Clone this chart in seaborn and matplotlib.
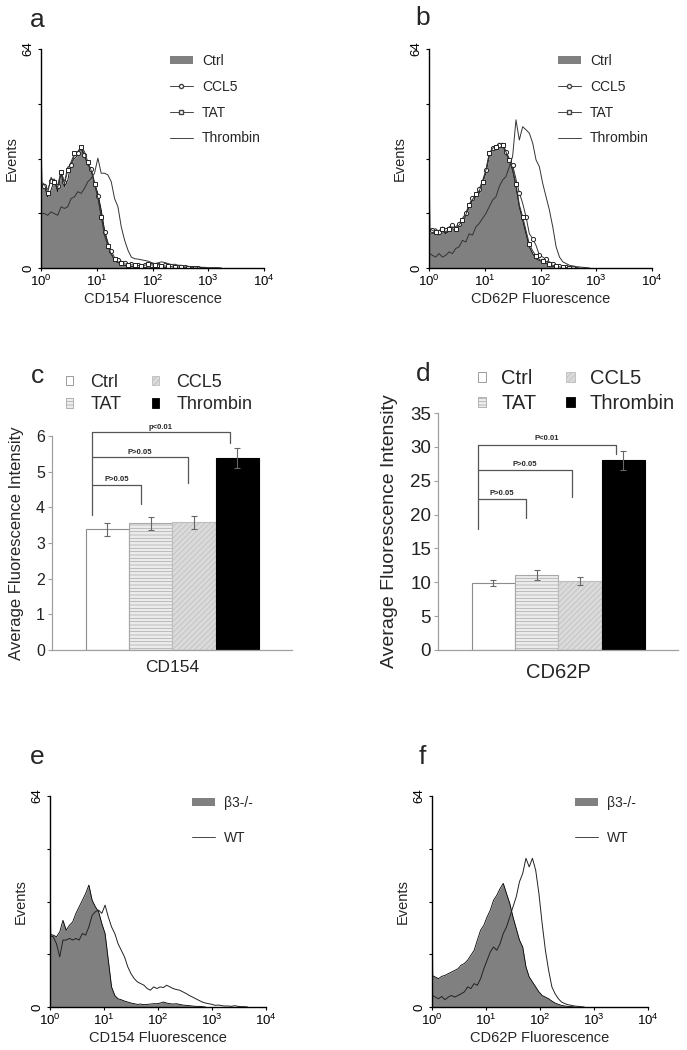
import matplotlib
matplotlib.use("Agg")
import matplotlib.pyplot as plt
import seaborn as sns
from matplotlib.patches import Patch
from matplotlib.lines import Line2D
from matplotlib.ticker import NullLocator

sns.set_style("ticks")
plt.rcParams["font.family"] = ["Liberation Sans", "DejaVu Sans"]
plt.rcParams["mathtext.fontset"] = "custom"
plt.rcParams["mathtext.rm"] = "Liberation Sans"
plt.rcParams["mathtext.it"] = "Liberation Sans:italic"
plt.rcParams["hatch.linewidth"] = 0.5

# flow cytometry channels (fluorescence, log scale)
fl_channels = [1.0, 1.03, 1.148, 1.318, 1.514, 1.738, 1.995, 2.291, 2.630, 3.020,
               3.467, 3.981, 4.571, 5.248, 6.026, 6.918, 7.943, 9.120, 10.47, 12.02,
               13.80, 15.85, 18.20, 20.89, 23.99, 27.54, 31.62, 36.31, 41.69, 47.86,
               54.95, 63.10, 72.44, 83.18, 95.50, 109.6, 125.9, 144.5, 166.0, 190.5,
               218.8, 251.2, 288.4, 331.1, 380.2, 436.5, 501.2, 575.4, 660.7, 758.6,
               871.0, 1000, 1148, 1318, 1514, 1738, 1995, 2291, 2630, 3020,
               3467, 3981, 4571, 5248, 6026, 6918, 7943, 9120, 10000]

# panel a - CD154
a_ctrl = [50, 24, 24.2, 20.8, 22.8, 25.7, 22.3, 27.7, 23.8, 25.7, 30.6, 32, 33, 35, 32.5,
          30.6, 28.6, 24.7, 21.8, 16.9, 11, 7.1, 4.2, 2.2, 1.6, 1.3, 1.1, 0.9, 0.8, 0.8,
          0.7, 0.6, 0.7, 0.9, 0.8, 0.6, 0.9, 1.0, 0.7, 0.6, 0.5, 0.4, 0.4, 0.3, 0.3, 0.2,
          0.2, 0.2, 0.1, 0.1, 0]
a_ccl5 = [46, 24.5, 24, 23, 25.5, 26, 24, 28.5, 25, 29.5, 30, 33, 33.5, 35.5, 33, 30, 29,
          25, 21, 15.5, 10.5, 7.5, 5, 3, 2.2, 2.0, 1.6, 1.3, 1.1, 0.8, 0.9, 1.0, 0.8, 1.0,
          0.9, 1.2, 1.0, 0.8, 0.9, 0.6, 0.5, 0.4, 0.3, 0.3, 0.2, 0.2, 0.1, 0.1, 0]
a_tat = [47, 25, 24.5, 22, 26.5, 25, 23.5, 28, 24.5, 28.5, 31, 33.5, 34, 35.5, 34, 31,
         28.5, 24.5, 20.5, 15, 9.5, 6.5, 4, 2.5, 1.8, 1.5, 1.2, 1.0, 0.9, 1.0, 0.7, 0.6,
         0.8, 1.1, 0.9, 0.8, 1.0, 0.7, 0.6, 0.5, 0.4, 0.3, 0.3, 0.2, 0.2, 0.1, 0.1, 0]
a_thr = [16, 16, 15.9, 15.4, 16.4, 15.9, 15.4, 17.9, 17.4, 17.9, 20.3, 20.8, 22.3, 21.8,
         23.3, 25.2, 26.2, 27.7, 32.1, 27.7, 27.7, 27.2, 25.2, 20.3, 17.9, 12, 8.1, 5.2,
         3.2, 2.7, 2.6, 2.4, 2.2, 2.0, 1.6, 1.3, 1.5, 1.8, 1.6, 1.3, 1.0, 1.1, 0.8, 0.8,
         0.6, 0.5, 0.4, 0.3, 0.3, 0.2, 0.2, 0.1, 0.1, 0.1, 0.1, 0]

# panel b - CD62P
b_ctrl = [48, 10, 10, 10.5, 9.6, 11, 10, 11, 11.5, 11, 12, 13.5, 15, 17.9, 19.8, 20.8,
          21.8, 24.7, 27.7, 32.6, 34.5, 35, 35.5, 36, 33.5, 31.6, 28.6, 23.8, 17.9, 14,
          10, 6.2, 4.2, 2.7, 2.2, 1.8, 1.3, 1.0, 0.7, 0.5, 0.4, 0.3, 0.2, 0.1, 0.1, 0.1, 0]
b_ccl5 = [47, 11, 11, 11.5, 10.5, 12, 11, 12, 12.5, 12, 13, 14.5, 16, 18.5, 20.5, 21.5,
          23, 25.5, 28.5, 33, 35, 35.5, 36, 36.5, 34, 32, 30, 26, 22, 18.9, 15, 10, 8.6,
          6.6, 3.7, 3.2, 2.5, 1.8, 1.2, 0.8, 0.5, 0.3, 0.2, 0.1, 0.1, 0]
b_tat = [47, 11.5, 11, 10.5, 11, 11.5, 10.5, 11.5, 12, 11.5, 12.5, 14, 15.5, 18.5, 20,
         21.5, 22.5, 25, 28.5, 33.5, 35, 35.5, 36.5, 36, 34, 31.5, 29, 24.5, 18.5, 15,
         11, 7, 5, 3.5, 2.5, 2.0, 1.5, 1.1, 0.8, 0.5, 0.3, 0.2, 0.1, 0]
b_thr = [4.2, 4.2, 3.7, 3.2, 4.2, 3.2, 3.7, 4.7, 4.2, 5.7, 6.2, 8.1, 7.6, 10, 9.6, 12,
         13, 14.5, 15.9, 17.9, 19.8, 20.8, 23.8, 25.7, 26.7, 29.6, 32.6, 43.3, 37.4,
         41.3, 40.4, 39.4, 36.5, 31.6, 29.6, 24.7, 20.8, 16.9, 12, 6.2, 3.2, 1.8, 1.3,
         0.8, 0.6, 0.4, 0.3, 0.2, 0.1, 0]

# panel e - CD154, beta3 knockout vs WT
e_ko = [48, 22, 21.8, 21.3, 22.8, 26.3, 23.3, 24.8, 25.8, 28.4, 30.4, 32.4, 34.4, 37,
        32.4, 30.4, 28.9, 25.3, 22.3, 14.2, 6.1, 3.5, 2.5, 2.2, 1.8, 1.5, 1.2, 1.0, 0.8,
        0.9, 0.7, 0.8, 0.9, 1.0, 1.0, 1.2, 1.5, 1.2, 1.0, 0.9, 1.0, 0.8, 0.6, 0.5, 0.4,
        0.3, 0.2, 0.2, 0.1, 0]
e_wt = [22, 21.5, 21.3, 19.2, 15.2, 20.3, 20.3, 20.8, 20.3, 20.8, 20.3, 22.3, 21.8, 24.3,
        27.8, 28.9, 29.4, 28.4, 30.9, 27.3, 24.3, 22.3, 19.2, 17.2, 15.2, 12.2, 10.1, 8.6,
        7.6, 7.1, 6.6, 5.6, 5.1, 6.1, 5.6, 6.1, 5.9, 6.6, 6.1, 5.6, 5.3, 5.1, 4.6, 4.1,
        3.5, 3.0, 2.5, 2.0, 1.5, 1.2, 1.0, 0.8, 0.5, 0.6, 0.4, 0.3, 0.3, 0.2, 0.4, 0.2,
        0.1, 0.1, 0]

# panel f - CD62P, beta3 knockout vs WT
f_ko = [48, 9.5, 9.1, 8.6, 9.3, 9.6, 10.1, 10.6, 11.1, 11.6, 12.7, 13.2, 14.2, 15.7, 17.2,
        20.3, 23.3, 24.8, 27.3, 29.4, 32.4, 33.9, 35.9, 37.5, 34.4, 31.4, 27.3, 23.8,
        20.3, 18.2, 12.2, 9.1, 7.6, 6.1, 4.6, 3.5, 3.0, 2.5, 1.8, 1.2, 0.8, 0.5, 0.3,
        0.2, 0.1, 0]
f_wt = [3.5, 3.5, 3.0, 2.5, 3.2, 2.2, 3.0, 3.5, 3.0, 3.5, 4.0, 4.6, 6.1, 5.6, 7.1, 6.6,
        8.6, 11.6, 14.2, 16.7, 18.2, 17.2, 19.2, 22.3, 24.3, 27.3, 30.4, 33.4, 38.0, 40.5,
        45.1, 42.5, 45.1, 41.5, 34.4, 25.3, 17.2, 11.1, 6.1, 4.0, 2.5, 1.5, 1.0, 0.7,
        0.5, 0.3, 0.2, 0.1, 0]

# panels c, d - mean fluorescence intensity
bar_groups = ["Ctrl", "TAT", "CCL5", "Thrombin"]
cd154_mean = [3.38, 3.55, 3.58, 5.37]
cd154_sem = [0.18, 0.18, 0.18, 0.28]
cd62p_mean = [9.9, 11.1, 10.2, 28.0]
cd62p_sem = [0.5, 0.7, 0.6, 1.45]

W, H = 687, 1050
fig = plt.figure(figsize=(W / 100, H / 100), dpi=100)


def px_axes(x0, y0, x1, y1):
    return fig.add_axes([x0 / W, 1 - y1 / H, (x1 - x0) / W, (y1 - y0) / H])


def flow_panel(ax, filled, lines, xlabel):
    ax.fill_between(fl_channels[:len(filled)], filled, color="#808080", lw=0)
    sns.lineplot(x=fl_channels[:len(filled)], y=filled, color="black", lw=0.6, ax=ax)
    for vals, style in lines:
        sns.lineplot(x=fl_channels[:len(vals)], y=vals, ax=ax, **style)
    ax.set_xscale("log")
    ax.set_xlim(1, 10000)
    ax.set_ylim(0, 64)
    ax.set_xticks([1, 10, 100, 1000, 10000])
    ax.set_xticklabels([r"$10^{0}$", r"$10^{1}$", r"$10^{2}$", r"$10^{3}$", r"$10^{4}$"])
    ax.xaxis.set_minor_locator(NullLocator())
    ax.set_yticks([0, 16, 32, 48, 64])
    ax.set_yticklabels(["0", "", "", "", "64"], rotation=90, va="center")
    ax.tick_params(length=2.5, width=0.8, labelsize=9.5, pad=2, colors="black")
    for s in ["top", "right"]:
        ax.spines[s].set_visible(False)
    for s in ["left", "bottom"]:
        ax.spines[s].set_color("black")
        ax.spines[s].set_linewidth(1.0)
    ax.set_xlabel(xlabel, fontsize=10.5, labelpad=2)
    ax.set_ylabel("Events", fontsize=10.5, labelpad=3)


ccl5_style = dict(color="#333333", lw=0.7, marker="o", markersize=3, markerfacecolor="white",
                  markeredgecolor="#222222", markeredgewidth=0.7, markevery=(2, 2))
tat_style = dict(color="#333333", lw=0.7, marker="s", markersize=3, markerfacecolor="white",
                 markeredgecolor="#222222", markeredgewidth=0.7, markevery=(3, 2))
thr_style = dict(color="#333333", lw=0.7)
wt_style = dict(color="#222222", lw=0.7)

fill_patch = Patch(facecolor="#808080", edgecolor="none")
flow_handles = [fill_patch,
                Line2D([], [], color="#444444", lw=0.7, marker="o", markersize=3,
                       markerfacecolor="white", markeredgecolor="#444444"),
                Line2D([], [], color="#444444", lw=0.7, marker="s", markersize=3,
                       markerfacecolor="white", markeredgecolor="#444444"),
                Line2D([], [], color="#444444", lw=0.7)]
ko_handles = [fill_patch, Line2D([], [], color="#444444", lw=0.7)]


def flow_legend(ax, handles, labels, x, y, spacing):
    ax.legend(handles, labels, loc="upper left", bbox_to_anchor=(x / W, 1 - y / H),
              bbox_transform=fig.transFigure, frameon=False, borderpad=0, borderaxespad=0,
              fontsize=10, handlelength=1.65, handleheight=0.45, handletextpad=0.65,
              labelspacing=spacing)


# a
ax_a = px_axes(41, 49, 264, 268)
flow_panel(ax_a, a_ctrl, [(a_ccl5, ccl5_style), (a_tat, tat_style), (a_thr, thr_style)],
           "CD154 Fluorescence")
flow_legend(ax_a, flow_handles, ["Ctrl", "CCL5", "TAT", "Thrombin"], 170, 54, 0.85)

# b
ax_b = px_axes(429, 49, 652, 268)
flow_panel(ax_b, b_ctrl, [(b_ccl5, ccl5_style), (b_tat, tat_style), (b_thr, thr_style)],
           "CD62P Fluorescence")
flow_legend(ax_b, flow_handles, ["Ctrl", "CCL5", "TAT", "Thrombin"], 558, 54, 0.85)

# e
ax_e = px_axes(50, 796, 266, 1007)
flow_panel(ax_e, e_ko, [(e_wt, wt_style)], "CD154 Fluorescence")
flow_legend(ax_e, ko_handles, ["\u03b23-/-", "WT"], 192, 796, 1.5)

# f
ax_f = px_axes(432, 796, 648, 1007)
flow_panel(ax_f, f_ko, [(f_wt, wt_style)], "CD62P Fluorescence")
flow_legend(ax_f, ko_handles, ["\u03b23-/-", "WT"], 575, 796, 1.5)

# bar panels
bar_colors = ["white", "#ececec", "#dadada", "black"]
bar_edges = ["#8c8c8c", "#a8a8a8", "#bdbdbd", "black"]
bar_hatches = ["", "-----", "//////", ""]


def bar_panel(ax, means, sems, ylim, yticks, xlabel, label_y, brackets, left_bottom,
              text_off, fs):
    sns.barplot(x=bar_groups, y=means, hue=bar_groups, order=bar_groups,
                hue_order=bar_groups, palette=bar_colors, width=1.0, linewidth=0.8,
                edgecolor="#8c8c8c", legend=False, errorbar=None, ax=ax)
    for patch, ec, h in zip(ax.patches, bar_edges, bar_hatches):
        patch.set_edgecolor(ec)
        patch.set_hatch(h)
    ax.errorbar(range(len(means)), means, yerr=sems, fmt="none", ecolor="#666666",
                elinewidth=0.8, capsize=2, capthick=0.8)
    ax.set_xlim(-1.28, 4.26)
    ax.set_ylim(*ylim)
    ax.set_yticks(yticks)
    ax.set_xticks([])
    for s in ["top", "right"]:
        ax.spines[s].set_visible(False)
    for s in ["left", "bottom"]:
        ax.spines[s].set_color("#a0a0a0")
        ax.spines[s].set_linewidth(0.9)
    ax.tick_params(axis="y", length=3, width=0.8, color="#a0a0a0", labelcolor="#222222",
                   labelsize=fs, pad=2)
    ax.set_xlabel(xlabel, fontsize=fs + 1, va="center")
    ax.xaxis.set_label_coords(0.5, label_y)
    ax.set_ylabel("Average Fluorescence Intensity", fontsize=fs + 0.5, labelpad=9)

    left_x = -0.36
    top = max(b[1] for b in brackets)
    ax.plot([left_x, left_x], [left_bottom, top], color="#555555", lw=0.9, clip_on=False)
    for rx, y, ybot, txt in brackets:
        ax.plot([left_x, rx, rx], [y, y, ybot], color="#555555", lw=0.9, clip_on=False)
        ax.text((left_x + rx) / 2, y + text_off, txt, ha="center", va="bottom",
                fontsize=5.5, fontweight="bold", clip_on=False)


bar_handles = [Patch(facecolor=c, edgecolor=e, hatch=h, lw=0.6)
               for c, e, h in zip(bar_colors, bar_edges, bar_hatches)]


def bar_legend(ax, x, y, fs, colsp, textpad):
    ax.legend(bar_handles, bar_groups, ncol=2, loc="upper left",
              bbox_to_anchor=(x / W, 1 - y / H), bbox_transform=fig.transFigure,
              frameon=False, borderpad=0, borderaxespad=0, fontsize=fs,
              handlelength=0.4, handleheight=0.4, handletextpad=textpad,
              labelspacing=0.3, columnspacing=colsp)


# c
ax_c = px_axes(52, 436, 292, 650)
bar_panel(ax_c, cd154_mean, cd154_sem, (0, 6), range(0, 7), "CD154", -0.084,
          [(0.77, 4.62, 4.08, "P>0.05"), (1.86, 5.40, 4.67, "P>0.05"),
           (2.83, 6.10, 5.81, "p<0.01")], 3.78, 0.05, 11.5)
bar_legend(ax_c, 66, 374, 13, 1.7, 0.95)

# d
ax_d = px_axes(438, 413, 678, 650)
bar_panel(ax_d, cd62p_mean, cd62p_sem, (0, 35), range(0, 36, 5), "CD62P", -0.097,
          [(0.74, 22.3, 19.5, "P>0.05"), (1.82, 26.55, 22.65, "P>0.05"),
           (2.83, 30.3, 28.9, "P<0.01")], 17.9, 0.35, 13.5)
bar_legend(ax_d, 478, 369, 14.5, 1.5, 0.75)

# panel letters
for letter, x, y in [("a", 37, 20), ("b", 423, 18), ("c", 38, 376),
                     ("d", 423, 374), ("e", 37, 757), ("f", 422, 757)]:
    fig.text(x / W, 1 - y / H, letter, fontsize=19, ha="center", va="center")

fig.savefig("out.png", dpi=100)
